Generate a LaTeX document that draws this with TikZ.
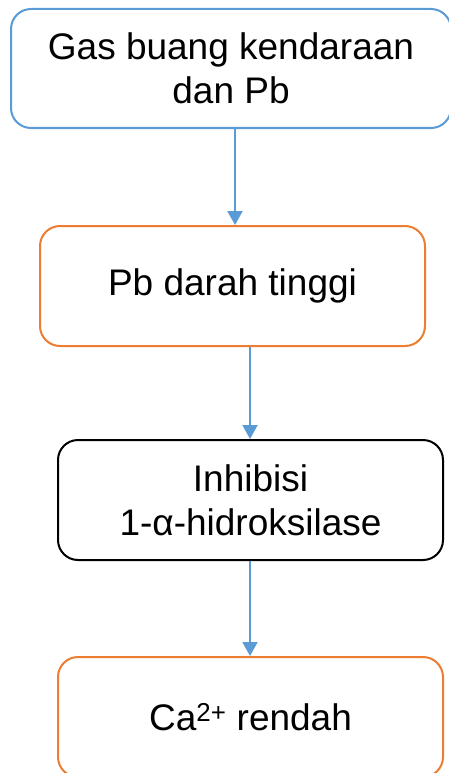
\documentclass[tikz,border=0pt]{standalone}
\usepackage{fontspec}
\setmainfont{Liberation Sans}
\usetikzlibrary{arrows.meta}
\definecolor{cblue}{RGB}{91,155,213}
\definecolor{corange}{RGB}{237,125,49}
\tikzset{
  box/.style={draw, line width=2pt, rounded corners=20pt, inner sep=0pt, align=center,
    font=\fontsize{37}{44}\selectfont, fill=white},
  arr/.style={draw=cblue, line width=2pt, -{Triangle[width=15pt,length=14pt]}}
}
\begin{document}
\begin{tikzpicture}[x=1pt,y=-1pt]
\useasboundingbox (0,0) rectangle (449,773);
\clip (0,0) rectangle (449,773);
\node[box, draw=cblue, minimum width=440pt, minimum height=119pt] (b1) at (231,68.5) {Gas buang kendaraan\\dan Pb};
\node[box, draw=corange, minimum width=385pt, minimum height=120pt] (b2) at (232.5,286) {Pb darah tinggi};
\node[box, draw=black, minimum width=385pt, minimum height=120pt] (b3) at (250.5,500) {Inhibisi\\1-α-hidroksilase};
\node[box, draw=corange, minimum width=385pt, minimum height=120pt] (b4) at (250.5,717) {Ca\textsuperscript{2+} rendah};
\coordinate (x1) at (235,0);
\coordinate (x2) at (250,0);
\draw[arr] (b1.south -| x1) -- (b2.north -| x1);
\draw[arr] (b2.south -| x2) -- (b3.north -| x2);
\draw[arr] (b3.south -| x2) -- (b4.north -| x2);
\end{tikzpicture}
\end{document}
